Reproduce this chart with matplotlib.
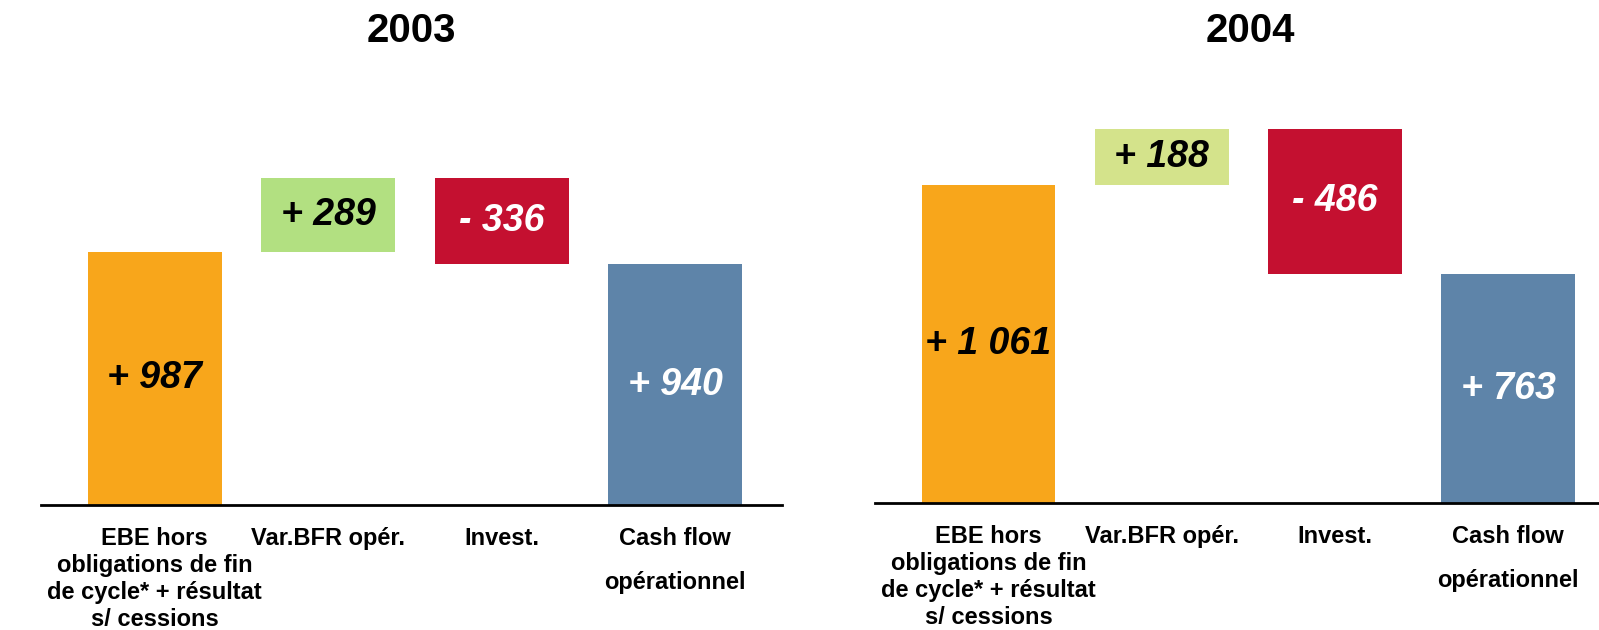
import numpy as np
import matplotlib.pyplot as plt

plt.rcParams['font.family'] = ['Liberation Sans', 'DejaVu Sans']

# data
categories = ["EBE hors\nobligations de fin\nde cycle* + résultat\ns/ cessions",
              "Var.BFR opér.", "Invest.", "Cash flow\nopérationnel"]
years = ["2003", "2004"]
values_2003 = [987, 289, -336, 940]
values_2004 = [1061, 188, -486, 763]

orange = "#F8A61B"
red = "#C41030"
blue = "#5E84A9"
green_2003 = "#B2E081"
green_2004 = "#D4E38B"


def fmt(v):
    s = f"{abs(v):,}".replace(",", " ")
    return ("+ " if v >= 0 else "- ") + s


def waterfall(ax, vals, green, ymax, xmax):
    # first and last bars are totals, middle ones are steps
    run = vals[0]
    bottoms = [0]
    heights = [vals[0]]
    for v in vals[1:-1]:
        if v >= 0:
            bottoms.append(run)
        else:
            bottoms.append(run + v)
        heights.append(abs(v))
        run += v
    bottoms.append(0)
    heights.append(vals[-1])
    colors = [orange, green, red, blue]
    txt_colors = ["black", "black", "white", "white"]
    x = np.arange(len(vals))
    ax.bar(x, heights, bottom=bottoms, width=0.773, color=colors, zorder=2)
    for i in range(len(vals)):
        ax.text(x[i], bottoms[i] + heights[i] / 2, fmt(vals[i]), ha="center", va="center",
                fontsize=27, fontweight="bold", fontstyle="italic", color=txt_colors[i])
    ax.set_ylim(0, ymax)
    ax.set_xlim(-0.655, xmax)
    for s in ["top", "left", "right"]:
        ax.spines[s].set_visible(False)
    ax.spines["bottom"].set_linewidth(2)
    ax.spines["bottom"].set_zorder(3)
    ax.set_yticks([])
    ax.set_xticks(x, categories, fontsize=17, fontweight="bold")
    ax.tick_params(axis="x", length=0, pad=16)
    for i, lab in enumerate(ax.get_xticklabels()):
        lab.set_linespacing(2.15 if i == 3 else 1.21)


def main():
    fig = plt.figure(figsize=(15.99, 6.3), dpi=100)
    ax1 = fig.add_axes([41 / 1599, 125 / 630, 741 / 1599, 445 / 630])
    ax2 = fig.add_axes([875 / 1599, 127 / 630, 724 / 1599, 443 / 630])
    waterfall(ax1, values_2003, green_2003, 1736, 3.616)
    waterfall(ax2, values_2004, green_2004, 1478, 3.524)
    fig.text(411 / 1599, 1 - 31 / 630, years[0], ha="center", va="center",
             fontsize=29, fontweight="bold")
    fig.text(1250 / 1599, 1 - 31 / 630, years[1], ha="center", va="center",
             fontsize=29, fontweight="bold")
    fig.savefig("out.png", dpi=100)


if __name__ == '__main__':
    main()
